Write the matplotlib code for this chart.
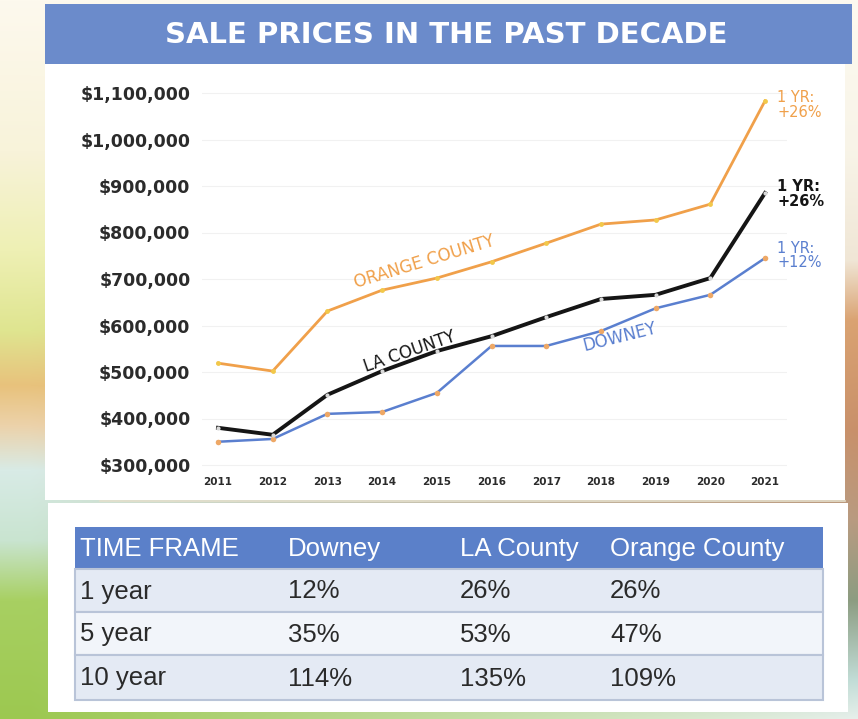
import numpy as np
import matplotlib.pyplot as plt
from matplotlib.patches import Rectangle
from matplotlib.ticker import FuncFormatter

# Data
years = [2011, 2012, 2013, 2014, 2015, 2016, 2017, 2018, 2019, 2020, 2021]
orange_county = [519000, 502000, 631000, 676000, 702000, 737000, 777000, 818000, 827000, 861000, 1083000]
la_county = [380000, 365000, 451000, 502000, 545000, 577000, 618000, 657000, 666000, 702000, 885000]
downey = [350000, 356000, 410000, 414000, 455000, 556000, 556000, 588000, 637000, 666000, 745000]

one_year_notes = ["1 YR:\n+26%", "1 YR:\n+26%", "1 YR:\n+12%"]

table_header = ["TIME FRAME", "Downey", "LA County", "Orange County"]
table_rows = [
    ["1 year", "12%", "26%", "26%"],
    ["5 year", "35%", "53%", "47%"],
    ["10 year", "114%", "135%", "109%"],
]

W, H = 858, 719
fig = plt.figure(figsize=(W / 100, H / 100), dpi=100)

# Backdrop in pixel coordinates
bg = fig.add_axes([0, 0, 1, 1])
bg.set_xlim(0, W)
bg.set_ylim(H, 0)
bg.axis("off")


def hex_rgb(h):
    h = h.lstrip("#")
    return [int(h[i:i + 2], 16) / 255 for i in (0, 2, 4)]


def column(stops, n):
    ys = [s[0] for s in stops]
    cols = np.array([hex_rgb(s[1]) for s in stops])
    yy = np.arange(n)
    return np.stack([np.interp(yy, ys, cols[:, k]) for k in range(3)], axis=1)


left_stops = [(0, "#fdf9ee"), (150, "#f8f3da"), (250, "#eef0b4"), (330, "#dfe590"),
              (385, "#e8c27c"), (425, "#ecd2aa"), (470, "#d8ebe6"), (540, "#c9e4d0"),
              (600, "#a8d062"), (719, "#9cc850")]
right_stops = [(0, "#fdfaf0"), (150, "#f8f4e8"), (260, "#f0e6d6"), (320, "#daa272"),
               (430, "#c8906a"), (520, "#b89a80"), (600, "#8c9c82"), (680, "#c2ddd8"),
               (719, "#e8f0ec")]
lc = column(left_stops, H)
rc = column(right_stops, H)
t = np.clip((np.arange(W) - 30) / 830, 0, 1)
img = lc[:, None, :] * (1 - t)[None, :, None] + rc[:, None, :] * t[None, :, None]
bg.imshow(img, extent=(0, W, H, 0), aspect="auto", zorder=0)

# White panels
bg.add_patch(Rectangle((45, 60), 800, 440, facecolor="white", edgecolor="none", zorder=1))
bg.add_patch(Rectangle((48, 503), 800, 209, facecolor="white", edgecolor="none", zorder=1))
bg.plot([100, 845], [501, 501], color="#e4dfcc", lw=1.2, zorder=2)

# Title bar
bg.add_patch(Rectangle((45, 4), 807, 60, facecolor="#6b8bcb", edgecolor="none", zorder=2))
bg.text(446, 35, "SALE PRICES IN THE PAST DECADE", color="white", fontsize=21,
        fontweight="bold", family="DejaVu Sans", ha="center", va="center", zorder=3)

# Table
tx0, tx1 = 75, 823
row_edges = [527, 569, 612, 655, 700]
col_x = [80, 288, 460, 610]
row_fills = ["#e4eaf4", "#f2f5fa", "#e4eaf4"]
bg.add_patch(Rectangle((tx0, row_edges[0]), tx1 - tx0, row_edges[1] - row_edges[0],
                       facecolor="#5b80c9", edgecolor="none", zorder=2))
for i, fill in enumerate(row_fills):
    bg.add_patch(Rectangle((tx0, row_edges[i + 1]), tx1 - tx0, row_edges[i + 2] - row_edges[i + 1],
                           facecolor=fill, edgecolor="#b9c4d8", lw=1.5, zorder=2))
tfont = "Liberation Sans"
for j, label in enumerate(table_header):
    bg.text(col_x[j], (row_edges[0] + row_edges[1]) / 2 + 1, label, color="white",
            fontsize=18.5, family=tfont, ha="left", va="center", zorder=3)
for i, row in enumerate(table_rows):
    yc = (row_edges[i + 1] + row_edges[i + 2]) / 2 + 1
    for j, cell in enumerate(row):
        bg.text(col_x[j], yc, cell, color="#2a2a2a", fontsize=18.5, family=tfont,
                ha="left", va="center", zorder=3)

# Line chart
ax = fig.add_axes([201.6 / W, 1 - 469.65 / H, 585.3 / W, 381.3 / H])
ax.set_facecolor("none")
ax.plot(years, orange_county, color="#f0a04a", lw=2, marker="o", ms=3.5,
        mfc="#f2c84a", mec="none", zorder=3)
ax.plot(years, la_county, color="#151515", lw=2.8, marker="o", ms=3,
        mfc="#d8d8d8", mec="none", zorder=4)
ax.plot(years, downey, color="#5a7fcf", lw=1.8, marker="o", ms=4,
        mfc="#eea866", mec="none", zorder=3)

ax.set_xlim(2010.7, 2021.4)
ax.set_ylim(290000, 1110000)
ax.set_yticks(range(300000, 1100001, 100000))
ax.set_xticks(years)
ax.yaxis.set_major_formatter(FuncFormatter(lambda v, p: "${:,.0f}".format(v)))
ax.grid(axis="y", color="#f1f1f1", lw=0.8)
ax.set_axisbelow(True)
ax.tick_params(length=0)
ax.tick_params(axis="y", pad=8, labelsize=12.5, labelcolor="#2b2b2b")
ax.tick_params(axis="x", pad=5, labelsize=7.5, labelcolor="#2b2b2b")
for lab in ax.get_yticklabels() + ax.get_xticklabels():
    lab.set_fontweight("bold")
for s in ax.spines.values():
    s.set_visible(False)

# Series labels along the lines
ax.text(2014.78, 737000, "ORANGE COUNTY", color="#f0a04a", fontsize=12, rotation=17,
        ha="center", va="center")
ax.text(2014.51, 543000, "LA COUNTY", color="#151515", fontsize=12, rotation=19,
        ha="center", va="center")
ax.text(2018.35, 575000, "DOWNEY", color="#5a7fcf", fontsize=12, rotation=14,
        ha="center", va="center")

# One-year change notes
note_y = [1074000, 883000, 750000]
note_c = ["#f0a04a", "#151515", "#5a7fcf"]
note_w = ["normal", "bold", "normal"]
for txt, yv, c, w in zip(one_year_notes, note_y, note_c, note_w):
    ax.text(2021.22, yv, txt, color=c, fontsize=10.5, fontweight=w, ha="left",
            va="center", linespacing=0.95, clip_on=False)

fig.savefig("out.png", dpi=100)
